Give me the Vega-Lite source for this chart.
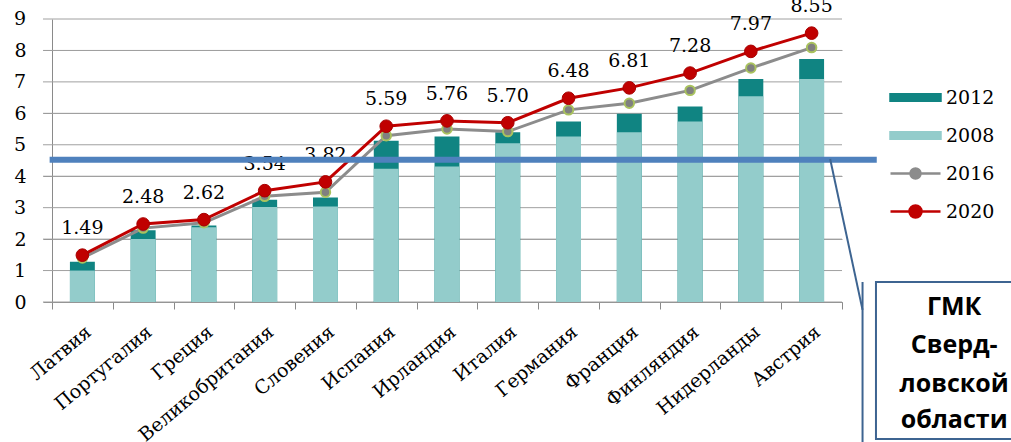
{
  "$schema": "https://vega.github.io/schema/vega-lite/v6.json",
  "width": 790,
  "height": 283,
  "autosize": {"type": "none"},
  "padding": {"left": 52, "top": 19, "right": 169, "bottom": 140},
  "background": "white",
  "config": {
    "view": {"stroke": null},
    "axisY": {
      "title": null,
      "grid": true,
      "gridColor": "#a0a0a0",
      "gridWidth": 1,
      "tickSize": 9,
      "tickCount": 9,
      "tickColor": "#8a8a8a",
      "domainColor": "#8a8a8a",
      "labelFont": "DejaVu Serif",
      "labelFontSize": 19,
      "labelColor": "black",
      "labelPadding": 17,
      "labelOverlap": false
    },
    "axisX": {
      "title": null,
      "labelAngle": -40,
      "labelFont": "DejaVu Serif",
      "labelFontSize": 19,
      "labelColor": "black",
      "labelLimit": 400,
      "labelOverlap": false,
      "labelPadding": 13,
      "tickBand": "extent",
      "tickSize": 7,
      "tickColor": "#8a8a8a",
      "domainColor": "#8a8a8a",
      "grid": false
    }
  },
  "datasets": {
    "rates": [
      {"country": "Латвия", "y2008": 1.0, "y2012": 1.28, "y2016": 1.40, "y2020": 1.49},
      {"country": "Португалия", "y2008": 2.0, "y2012": 2.28, "y2016": 2.35, "y2020": 2.48},
      {"country": "Греция", "y2008": 2.38, "y2012": 2.43, "y2016": 2.52, "y2020": 2.62},
      {"country": "Великобритания", "y2008": 3.02, "y2012": 3.25, "y2016": 3.36, "y2020": 3.54},
      {"country": "Словения", "y2008": 3.04, "y2012": 3.32, "y2016": 3.49, "y2020": 3.82},
      {"country": "Испания", "y2008": 4.24, "y2012": 5.13, "y2016": 5.29, "y2020": 5.59},
      {"country": "Ирландия", "y2008": 4.31, "y2012": 5.26, "y2016": 5.50, "y2020": 5.76},
      {"country": "Италия", "y2008": 5.05, "y2012": 5.40, "y2016": 5.42, "y2020": 5.70},
      {"country": "Германия", "y2008": 5.26, "y2012": 5.74, "y2016": 6.11, "y2020": 6.48},
      {"country": "Франция", "y2008": 5.40, "y2012": 5.99, "y2016": 6.32, "y2020": 6.81},
      {"country": "Финляндия", "y2008": 5.74, "y2012": 6.22, "y2016": 6.73, "y2020": 7.28},
      {"country": "Нидерланды", "y2008": 6.54, "y2012": 7.09, "y2016": 7.44, "y2020": 7.97},
      {"country": "Австрия", "y2008": 7.09, "y2012": 7.73, "y2016": 8.09, "y2020": 8.55}
    ],
    "ticks": [
      {"tick": 0}, {"tick": 1}, {"tick": 2}, {"tick": 3}, {"tick": 4},
      {"tick": 5}, {"tick": 6}, {"tick": 7}, {"tick": 8}, {"tick": 9}
    ],
    "legendRows": [
      {"series": "2012", "x": null, "y": null},
      {"series": "2008", "x": null, "y": null},
      {"series": "2016", "x": null, "y": null},
      {"series": "2020", "x": null, "y": null}
    ],
    "noteLines": [
      {"x": 1.142, "y": -0.41, "line": "ГМК"},
      {"x": 1.142, "y": -1.62, "line": "Сверд-"},
      {"x": 1.142, "y": -2.86, "line": "ловской"},
      {"x": 1.142, "y": -4.01, "line": "области"}
    ]
  },
  "resolve": {"scale": {"x": "independent"}, "axis": {"x": "independent"}},
  "layer": [
    {
      "data": {"name": "ticks"},
      "mark": {"type": "rule", "color": "#a0a0a0", "strokeWidth": 1},
      "encoding": {
        "x": {"datum": -0.0114, "type": "quantitative", "scale": {"domain": [0, 1], "nice": false, "zero": false}, "axis": null},
        "x2": {"datum": 1},
        "y": {"field": "tick", "type": "quantitative", "scale": {"domain": [0, 9], "nice": false, "zero": false}, "axis": {"title": null, "values": [0, 1, 2, 3, 4, 5, 6, 7, 8, 9]}}
      }
    },
    {
      "data": {"name": "ticks"},
      "transform": [{"filter": "datum.tick % 2 == 1"}],
      "mark": {"type": "text", "font": "DejaVu Serif", "fontSize": 19, "color": "black", "align": "right", "baseline": "middle"},
      "encoding": {
        "x": {"datum": -0.0329, "type": "quantitative", "scale": {"domain": [0, 1], "nice": false, "zero": false}, "axis": null},
        "y": {"field": "tick", "type": "quantitative", "scale": {"domain": [0, 9], "nice": false, "zero": false}, "axis": {"title": null, "values": [0, 1, 2, 3, 4, 5, 6, 7, 8, 9]}},
        "text": {"field": "tick", "type": "quantitative"}
      }
    },
    {
      "data": {"name": "rates"},
      "mark": {"type": "bar", "color": "#108482", "width": {"band": 0.41}},
      "encoding": {
        "x": {"field": "country", "type": "nominal", "sort": null, "scale": {"type": "band", "paddingInner": 0, "paddingOuter": 0}, "axis": {"title": null}},
        "y": {"field": "y2012", "type": "quantitative", "scale": {"domain": [0, 9], "nice": false, "zero": false}, "axis": {"title": null, "values": [0, 1, 2, 3, 4, 5, 6, 7, 8, 9]}}
      }
    },
    {
      "data": {"name": "rates"},
      "mark": {"type": "bar", "color": "#93cccb", "width": {"band": 0.41}},
      "encoding": {
        "x": {"field": "country", "type": "nominal", "sort": null, "scale": {"type": "band", "paddingInner": 0, "paddingOuter": 0}, "axis": null},
        "y": {"field": "y2008", "type": "quantitative", "scale": {"domain": [0, 9], "nice": false, "zero": false}, "axis": {"title": null, "values": [0, 1, 2, 3, 4, 5, 6, 7, 8, 9]}}
      }
    },
    {
      "data": {"name": "rates"},
      "mark": {"type": "line", "color": "#8c8c8c", "strokeWidth": 3},
      "encoding": {
        "x": {"field": "country", "type": "nominal", "sort": null, "scale": {"type": "band", "paddingInner": 0, "paddingOuter": 0}, "axis": null},
        "y": {"field": "y2016", "type": "quantitative", "scale": {"domain": [0, 9], "nice": false, "zero": false}, "axis": {"title": null, "values": [0, 1, 2, 3, 4, 5, 6, 7, 8, 9]}}
      }
    },
    {
      "data": {"name": "rates"},
      "mark": {"type": "point", "filled": true, "fill": "#808080", "stroke": "#a9c25e", "strokeWidth": 2, "size": 90, "opacity": 1},
      "encoding": {
        "x": {"field": "country", "type": "nominal", "sort": null, "scale": {"type": "band", "paddingInner": 0, "paddingOuter": 0}, "axis": null},
        "y": {"field": "y2016", "type": "quantitative", "scale": {"domain": [0, 9], "nice": false, "zero": false}, "axis": {"title": null, "values": [0, 1, 2, 3, 4, 5, 6, 7, 8, 9]}}
      }
    },
    {
      "data": {"name": "rates"},
      "mark": {"type": "line", "color": "#c00000", "strokeWidth": 3},
      "encoding": {
        "x": {"field": "country", "type": "nominal", "sort": null, "scale": {"type": "band", "paddingInner": 0, "paddingOuter": 0}, "axis": null},
        "y": {"field": "y2020", "type": "quantitative", "scale": {"domain": [0, 9], "nice": false, "zero": false}, "axis": {"title": null, "values": [0, 1, 2, 3, 4, 5, 6, 7, 8, 9]}}
      }
    },
    {
      "data": {"name": "rates"},
      "mark": {"type": "point", "filled": true, "fill": "#c00000", "stroke": "#a80000", "strokeWidth": 1, "size": 160, "opacity": 1},
      "encoding": {
        "x": {"field": "country", "type": "nominal", "sort": null, "scale": {"type": "band", "paddingInner": 0, "paddingOuter": 0}, "axis": null},
        "y": {"field": "y2020", "type": "quantitative", "scale": {"domain": [0, 9], "nice": false, "zero": false}, "axis": {"title": null, "values": [0, 1, 2, 3, 4, 5, 6, 7, 8, 9]}}
      }
    },
    {
      "data": {"name": "rates"},
      "mark": {"type": "text", "font": "DejaVu Serif", "fontSize": 19, "color": "black", "dy": -27, "baseline": "middle", "align": "center"},
      "encoding": {
        "x": {"field": "country", "type": "nominal", "sort": null, "scale": {"type": "band", "paddingInner": 0, "paddingOuter": 0}, "axis": null},
        "y": {"field": "y2020", "type": "quantitative", "scale": {"domain": [0, 9], "nice": false, "zero": false}, "axis": {"title": null, "values": [0, 1, 2, 3, 4, 5, 6, 7, 8, 9]}},
        "text": {"field": "y2020", "type": "quantitative", "format": ".2f"}
      }
    },
    {
      "data": {"values": [{"x": -0.003, "x2": 1.044, "y": 4.52}]},
      "mark": {"type": "rule", "color": "#4f81bd", "strokeWidth": 6},
      "encoding": {
        "x": {"field": "x", "type": "quantitative", "scale": {"domain": [0, 1], "nice": false, "zero": false}, "axis": null},
        "x2": {"field": "x2"},
        "y": {"field": "y", "type": "quantitative", "scale": {"domain": [0, 9], "nice": false, "zero": false}, "axis": {"title": null, "values": [0, 1, 2, 3, 4, 5, 6, 7, 8, 9]}}
      }
    },
    {
      "data": {"values": [{"x": 0.985, "x2": 1.026, "y": 4.55, "y2": -0.25}, {"x": 1.026, "x2": 1.026, "y": 0.636, "y2": -4.7}]},
      "mark": {"type": "rule", "color": "#3d6491", "strokeWidth": 2},
      "encoding": {
        "x": {"field": "x", "type": "quantitative", "scale": {"domain": [0, 1], "nice": false, "zero": false}, "axis": null},
        "x2": {"field": "x2"},
        "y": {"field": "y", "type": "quantitative", "scale": {"domain": [0, 9], "nice": false, "zero": false}, "axis": {"title": null, "values": [0, 1, 2, 3, 4, 5, 6, 7, 8, 9]}},
        "y2": {"field": "y2"}
      }
    },
    {
      "data": {"values": [{"x": 1.043, "x2": 1.26, "y": 0.636, "y2": -4.36}]},
      "mark": {"type": "rect", "fill": "white", "stroke": "#3d6491", "strokeWidth": 2},
      "encoding": {
        "x": {"field": "x", "type": "quantitative", "scale": {"domain": [0, 1], "nice": false, "zero": false}, "axis": null},
        "x2": {"field": "x2"},
        "y": {"field": "y", "type": "quantitative", "scale": {"domain": [0, 9], "nice": false, "zero": false}, "axis": {"title": null, "values": [0, 1, 2, 3, 4, 5, 6, 7, 8, 9]}},
        "y2": {"field": "y2"}
      }
    },
    {
      "data": {"name": "noteLines"},
      "mark": {"type": "text", "font": "Open Sans", "fontWeight": "bold", "fontSize": 25, "color": "black", "align": "center", "baseline": "alphabetic"},
      "encoding": {
        "x": {"field": "x", "type": "quantitative", "scale": {"domain": [0, 1], "nice": false, "zero": false}, "axis": null},
        "y": {"field": "y", "type": "quantitative", "scale": {"domain": [0, 9], "nice": false, "zero": false}, "axis": {"title": null, "values": [0, 1, 2, 3, 4, 5, 6, 7, 8, 9]}},
        "text": {"field": "line"}
      }
    },
    {
      "data": {"name": "legendRows"},
      "mark": {"type": "point", "filled": true, "opacity": 1, "strokeWidth": 2.5},
      "encoding": {
        "x": {"field": "x", "type": "quantitative", "scale": {"domain": [0, 1], "nice": false, "zero": false}, "axis": null},
        "y": {"field": "y", "type": "quantitative", "scale": {"domain": [0, 9], "nice": false, "zero": false}, "axis": {"title": null, "values": [0, 1, 2, 3, 4, 5, 6, 7, 8, 9]}},
        "fill": {
          "field": "series",
          "type": "nominal",
          "scale": {"domain": ["2012", "2008", "2016", "2020"], "range": ["#108482", "#93cccb", "#8c8c8c", "#c00000"]},
          "legend": {
            "orient": "none",
            "legendX": 837,
            "legendY": 52,
            "title": null,
            "padding": 0,
            "labelFont": "DejaVu Serif",
            "labelFontSize": 19,
            "labelColor": "black",
            "symbolSize": 2500,
            "symbolStrokeWidth": 2.5,
            "rowPadding": 1,
            "labelOffset": 4
          }
        },
        "stroke": {
          "field": "series",
          "type": "nominal",
          "scale": {"domain": ["2012", "2008", "2016", "2020"], "range": ["#108482", "#93cccb", "#8c8c8c", "#c00000"]}
        },
        "shape": {
          "field": "series",
          "type": "nominal",
          "scale": {
            "domain": ["2012", "2008", "2016", "2020"],
            "range": [
              "M-1,-0.13H1V0.13H-1Z",
              "M-1,-0.13H1V0.13H-1Z",
              "M-1,0H1M0.2,0A0.2,0.2,0,1,1,-0.2,0A0.2,0.2,0,1,1,0.2,0Z",
              "M-1,0H1M0.24,0A0.24,0.24,0,1,1,-0.24,0A0.24,0.24,0,1,1,0.24,0Z"
            ]
          }
        }
      }
    }
  ]
}
